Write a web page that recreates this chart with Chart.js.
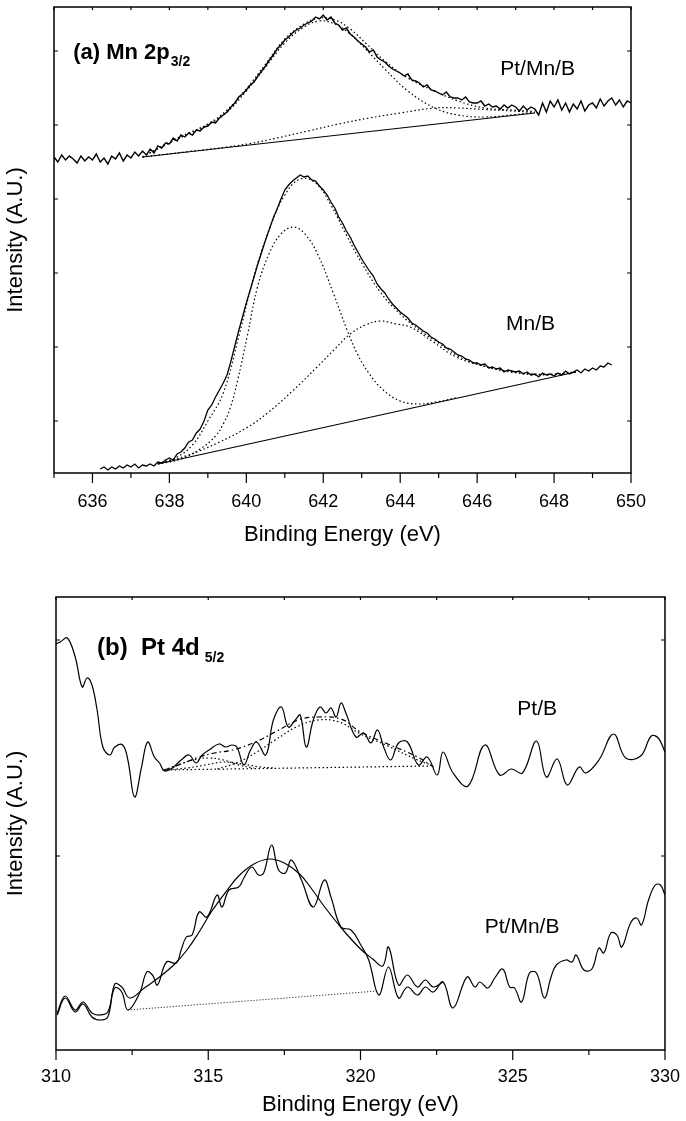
<!DOCTYPE html>
<html>
<head>
<meta charset="utf-8">
<script src="https://cdn.jsdelivr.net/npm/chart.js@4.4.1/dist/chart.umd.min.js"></script>
<style>
    html, body { margin: 0; padding: 0; background: #fff; }
    #wrap { position: relative; width: 686px; height: 1121px; }
    canvas { position: absolute; left: 0; }
</style>
</head>
<body>
<div id="wrap">
    <canvas id="mnChart" width="686" height="555" style="top:0"></canvas>
    <canvas id="ptChart" width="686" height="566" style="top:555px"></canvas>
</div>
<script>
const FONT = '"Liberation Sans", Arial, Helvetica, sans-serif';

// ---------- (a) Mn 2p3/2 ----------
const energyA = [
    635.0, 635.1, 635.2, 635.3, 635.4, 635.5, 635.6, 635.7, 635.8, 635.9,
    636.0, 636.1, 636.2, 636.3, 636.4, 636.5, 636.6, 636.7, 636.8, 636.9,
    637.0, 637.1, 637.2, 637.3, 637.4, 637.5, 637.6, 637.7, 637.8, 637.9,
    638.0, 638.1, 638.2, 638.3, 638.4, 638.5, 638.6, 638.7, 638.8, 638.9,
    639.0, 639.1, 639.2, 639.3, 639.4, 639.5, 639.6, 639.7, 639.8, 639.9,
    640.0, 640.1, 640.2, 640.3, 640.4, 640.5, 640.6, 640.7, 640.8, 640.9,
    641.0, 641.1, 641.2, 641.3, 641.4, 641.5, 641.6, 641.7, 641.8, 641.9,
    642.0, 642.1, 642.2, 642.3, 642.4, 642.5, 642.6, 642.7, 642.8, 642.9,
    643.0, 643.1, 643.2, 643.3, 643.4, 643.5, 643.6, 643.7, 643.8, 643.9,
    644.0, 644.1, 644.2, 644.3, 644.4, 644.5, 644.6, 644.7, 644.8, 644.9,
    645.0, 645.1, 645.2, 645.3, 645.4, 645.5, 645.6, 645.7, 645.8, 645.9,
    646.0, 646.1, 646.2, 646.3, 646.4, 646.5, 646.6, 646.7, 646.8, 646.9,
    647.0, 647.1, 647.2, 647.3, 647.4, 647.5, 647.6, 647.7, 647.8, 647.9,
    648.0, 648.1, 648.2, 648.3, 648.4, 648.5, 648.6, 648.7, 648.8, 648.9,
    649.0, 649.1, 649.2, 649.3, 649.4, 649.5, 649.6, 649.7, 649.8, 649.9,
    650.0
];
const ptMnBSpectrumA = [
    264, 259, 266, 261, 265, 262, 258, 265, 260, 264,
    261, 267, 259, 263, 257, 265, 262, 268, 260, 266,
    263, 269, 265, 270, 266, 272, 268, 275, 273, 278,
    277, 283, 280, 286, 284, 288, 286, 291, 290, 294,
    295, 299, 298, 303, 306, 309, 314, 318, 324, 327,
    331, 336, 339, 345, 350, 355, 361, 366, 372, 376,
    381, 384, 388, 391, 393, 396, 398, 400, 404, 402,
    406, 401, 404, 398, 396, 391, 393, 387, 384, 380,
    377, 374, 369, 371, 364, 361, 359, 355, 352, 350,
    348, 345, 347, 341, 340, 338, 334, 336, 331, 330,
    328, 326, 329, 324, 323, 323, 321, 324, 319, 318,
    318, 320, 315, 317, 314, 315, 312, 316, 313, 316,
    314, 310, 315, 311, 314, 312, 306, 318, 309, 320,
    314, 321, 311, 318, 309, 317, 312, 320, 310, 316,
    318, 313, 322, 315, 320, 323, 316, 321, 314, 320,
    318
];
const mnBSpectrumA = [
    null, null, null, null, null, null, null, null, null, null,
    null, null, -48, -46, -49, -46, -48, -45, -47, -44,
    -46, -43, -47, -44, -45, -43, -45, -41, -42, -39,
    -37, -39, -33, -31, -27, -21, -19, -12, -8, 0,
    11, 16, 24, 31, 38, 46, 60, 75, 90, 104,
    118, 131, 144, 157, 169, 181, 192, 203, 212, 222,
    231, 236, 240, 243, 246, 244, 245, 241, 240, 235,
    231, 226, 219, 213, 204, 198, 190, 184, 176, 169,
    162, 156, 150, 145, 137, 132, 128, 122, 117, 113,
    109, 106, 103, 98, 96, 93, 90, 88, 84, 82,
    79, 77, 73, 72, 69, 66, 65, 62, 61, 58,
    58, 56, 57, 53, 54, 52, 53, 49, 51, 50,
    49, 50, 47, 49, 46, 47, 44, 48, 46, 47,
    45, 48, 46, 50, 47, 49, 51, 48, 52, 50,
    53, 51, 55, 54, 58, 56, null, null, null, null,
    null
];
// fitted curves (energy / intensity pairs)
const ptMnBBaseE = [637.3, 647.5];
const ptMnBBaseI = [264, 308];
const ptMnBMainE = [637.3, 638.0, 638.5, 639.0, 639.5, 640.0, 640.5, 641.0, 641.5, 641.9, 642.3, 642.7, 643.1, 643.6, 644.2, 644.9, 645.5, 646.2, 647.0, 647.5];
const ptMnBMainI = [264, 278, 287, 296, 309, 330, 354, 378, 394, 400, 397, 387, 372, 352, 330, 313, 306, 304, 306.5, 308.5];
const ptMnBSecondE = [637.3, 638.5, 639.5, 640.1, 640.8, 641.6, 642.4, 643.2, 644.0, 644.9, 645.5, 646.2, 646.9, 647.5];
const ptMnBSecondI = [264, 269.4, 274, 277.5, 283, 290, 297, 303, 308, 313, 313, 311.5, 310, 308.5];
const ptMnBEnvE = [637.3, 638.0, 638.5, 639.0, 639.5, 640.0, 640.5, 641.0, 641.5, 641.9, 642.3, 642.7, 643.1, 643.6, 644.2, 644.9, 645.5, 646.2, 646.9, 647.5];
const ptMnBEnvI = [264, 279, 288, 297, 311, 332, 357, 382, 397, 403, 401, 392, 378, 360, 343, 330, 320, 313, 311, 309.5];

const mnBBaseE = [637.7, 648.57];
const mnBBaseI = [-43, 49];
const mnBMainE = [637.7, 638.3, 638.8, 639.2, 639.4, 639.58, 639.77, 640.03, 640.29, 640.6, 640.9, 641.22, 641.5, 641.84, 642.26, 642.62, 642.9, 643.2, 643.56, 644.0, 644.5, 645.0, 645.5];
const mnBMainI = [-43, -38, -28, -15, -3, 13, 40, 86, 134, 168, 187, 194, 188, 168, 128, 91, 66, 47, 31, 20, 17, 19.5, 23.5];
const mnBSecondE = [637.7, 638.5, 639.25, 640.0, 640.55, 641.2, 641.84, 642.3, 642.7, 643.1, 643.48, 643.9, 644.26, 644.86, 645.45, 646.16, 646.86, 647.71, 648.57];
const mnBSecondI = [-43, -34, -22, -7, 8, 30, 54, 72, 87, 96, 100, 97, 94, 79, 64, 55, 49, 46, 49];
const mnBEnvE = [637.7, 638.2, 638.6, 639.0, 639.4, 639.8, 640.2, 640.6, 641.0, 641.4, 641.8, 642.2, 642.6, 643.0, 643.5, 644.0, 644.5, 645.0, 645.5, 646.0, 646.5, 647.0, 647.5, 648.0, 648.57];
const mnBEnvI = [-43, -36, -24, 0, 28, 84, 145, 192, 226, 242, 238, 216, 186, 158, 128, 107, 91, 78, 65, 57, 52, 49, 47, 47, 49];

const xTicksA = [635, 636, 637, 638, 639, 640, 641, 642, 643, 644, 645, 646, 647, 648, 649, 650];
const xLabelsA = [636, 638, 640, 642, 644, 646, 648, 650];
const yTicksA = [0, 74, 148, 222, 296, 370];

// ---------- (b) Pt 4d5/2 ----------
const ptBE = [310.0, 310.14, 310.37, 310.63, 310.86, 311.02, 311.18, 311.35, 311.54, 311.77, 311.93, 312.19, 312.36, 312.58, 312.81, 313.01, 313.23, 313.40, 313.56, 313.82, 314.11, 314.37, 314.60, 314.80, 315.03, 315.35, 315.58, 315.78, 315.94, 316.17, 316.39, 316.59, 316.89, 317.14, 317.40, 317.63, 317.86, 318.02, 318.22, 318.45, 318.67, 318.87, 319.03, 319.20, 319.36, 319.52, 319.85, 320.11, 320.34, 320.56, 320.76, 320.99, 321.25, 321.54, 321.90, 322.19, 322.52, 322.71, 323.04, 323.53, 324.08, 324.57, 324.96, 325.32, 325.78, 326.10, 326.46, 326.79, 327.18, 327.40, 327.83, 328.31, 328.71, 329.20, 329.55, 329.78, 330.0];
const ptBI = [212, 214, 218, 199, 169, 178, 171, 146, 109, 101, 109, 111, 96, 59, 89, 114, 99, 93, 85, 88, 96, 101, 93, 101, 106, 112, 109, 111, 109, 91, 106, 114, 101, 136, 149, 129, 136, 141, 109, 136, 149, 143, 148, 139, 153, 143, 119, 123, 113, 126, 109, 96, 113, 114, 91, 99, 81, 104, 83, 70, 111, 81, 87, 83, 115, 79, 97, 71, 89, 83, 96, 122, 98, 100, 120, 118, 104];
const ptBBaseE = [313.5, 322.3];
const ptBBaseI = [86, 90];
const ptBEnvE = [313.56, 314.2, 314.7, 315.2, 315.8, 316.55, 317.2, 317.96, 318.6, 319.36, 320.0, 320.9, 321.87, 322.4];
const ptBEnvI = [86, 93, 99, 103, 106, 114, 124, 136, 139, 137, 124, 112, 99, 89];
const ptBComp1E = [313.56, 314.0, 314.5, 315.0, 315.5, 316.0, 316.5];
const ptBComp1I = [86, 91, 96, 98, 96, 91, 88];
const ptBComp2E = [313.56, 314.3, 314.9, 315.5, 316.1, 316.7, 317.2];
const ptBComp2I = [86, 88, 91, 94, 92, 89, 88];
const ptBComp3E = [315.3, 316.0, 316.6, 317.2, 317.9, 318.6, 319.3, 320.0, 320.9, 321.8, 322.4];
const ptBComp3I = [87, 94, 104, 116, 129, 136, 134, 122, 110, 97, 90];

const ptMnBE = [310.04, 310.30, 310.63, 310.89, 311.18, 311.44, 311.70, 311.93, 312.16, 312.36, 312.75, 312.98, 313.17, 313.33, 313.63, 313.95, 314.11, 314.28, 314.47, 314.70, 314.96, 315.29, 315.45, 315.68, 316.00, 316.17, 316.43, 316.65, 316.82, 317.08, 317.31, 317.53, 317.73, 318.06, 318.45, 318.81, 319.03, 319.36, 319.69, 320.01, 320.27, 320.60, 320.92, 321.25, 321.54, 321.87, 322.13, 322.39, 322.71, 323.04, 323.50, 323.76, 323.92, 324.18, 324.41, 324.67, 324.90, 325.06, 325.29, 325.55, 325.78, 326.04, 326.26, 326.43, 326.75, 326.95, 327.08, 327.34, 327.60, 327.83, 327.99, 328.22, 328.42, 328.58, 328.87, 329.07, 329.23, 329.46, 329.68, 329.85, 330.0];
const ptMnBI = [-157, -140, -154, -146, -157, -159, -156, -132, -136, -154, -137, -116, -119, -129, -106, -107, -94, -81, -79, -56, -61, -39, -51, -34, -31, -22, -11, -19, -17, 11, -14, -17, -4, -24, -51, -24, -41, -71, -74, -89, -104, -139, -111, -142, -131, -139, -131, -136, -126, -152, -121, -131, -126, -132, -122, -113, -131, -132, -146, -117, -117, -142, -121, -109, -104, -106, -99, -114, -113, -92, -97, -77, -79, -91, -67, -62, -69, -44, -29, -29, -39];
const ptMnBFitE = [310.04, 310.30, 310.63, 310.89, 311.18, 311.44, 311.70, 311.93, 312.16, 312.42, 312.9, 313.4, 313.9, 314.3, 314.7, 315.1, 315.6, 316.0, 316.5, 317.0, 317.5, 318.0, 318.4, 318.8, 319.4, 320.0, 320.4, 320.73, 320.92, 321.25, 321.54, 321.87, 322.13, 322.39, 322.71];
const ptMnBFitI = [-159, -142, -156, -148, -161, -164, -161, -128, -131, -142, -132, -121, -108, -94, -76, -56, -35, -20, -8, -3, -7, -18, -33, -50, -73, -93, -103, -110, -91, -129, -119, -131, -124, -131, -126];
const ptMnBBaseBE = [312.36, 320.56];
const ptMnBBaseBI = [-154, -135];

const xTicksB = [310, 312.5, 315, 317.5, 320, 322.5, 325, 327.5, 330];
const xLabelsB = [310, 315, 320, 325, 330];
const yTicksB = [0, 216];

// ---------- helpers ----------
function pairs(xs, ys) {
    const out = [];
    xs.forEach((x, i) => { if (ys[i] !== null) out.push({ x: x, y: ys[i] }); });
    return out;
}

const DOT = [1.5, 2.5];

function line(data, opts) {
    return Object.assign({
        data: data,
        borderColor: '#000',
        borderWidth: 1.2,
        pointRadius: 0,
        fill: false,
        tension: 0,
        spanGaps: false
    }, opts || {});
}

const framePlugin = {
    id: 'frame',
    afterDraw(chart, args, opts) {
        const { ctx, chartArea: a, scales: { x, y } } = chart;
        ctx.save();
        ctx.strokeStyle = '#000';
        ctx.lineWidth = 1.5;
        ctx.strokeRect(a.left, a.top, a.right - a.left, a.bottom - a.top);
        ctx.lineWidth = 1.2;
        ctx.beginPath();
        x.ticks.forEach(t => {
            const px = x.getPixelForValue(t.value);
            const major = opts.major.includes(t.value);
            ctx.moveTo(px, a.bottom);
            ctx.lineTo(px, a.bottom + (major ? 10 : 5));
            ctx.moveTo(px, a.top);
            ctx.lineTo(px, a.top + 3);
        });
        opts.yTicks.forEach(v => {
            const py = y.getPixelForValue(v);
            ctx.moveTo(a.left, py);
            ctx.lineTo(a.left + 4, py);
            ctx.moveTo(a.right, py);
            ctx.lineTo(a.right - 4, py);
        });
        ctx.stroke();

        ctx.fillStyle = '#000';
        ctx.textAlign = 'left';
        ctx.textBaseline = 'alphabetic';
        opts.labels.forEach(l => {
            const px = x.getPixelForValue(l.x);
            const py = y.getPixelForValue(l.y);
            ctx.font = (l.bold ? 'bold ' : '') + l.size + 'px ' + FONT;
            ctx.fillText(l.text, px, py);
            if (l.sub) {
                const w = ctx.measureText(l.text).width;
                ctx.font = 'bold ' + l.subSize + 'px ' + FONT;
                ctx.fillText(l.sub, px + w + l.gap, py + l.drop);
            }
        });
        ctx.restore();
    }
};

function xScale(min, max, ticks, labels, height, pad, titlePad) {
    return {
        type: 'linear',
        min: min,
        max: max,
        afterBuildTicks: s => { s.ticks = ticks.map(v => ({ value: v })); },
        afterFit: s => { s.height = height; },
        grid: { display: false, drawTicks: true, tickLength: 10 },
        border: { display: false },
        ticks: {
            autoSkip: false,
            maxRotation: 0,
            padding: pad,
            color: '#000',
            font: { family: FONT, size: 18 },
            callback: v => labels.includes(v) ? String(v) : ''
        },
        title: {
            display: true,
            text: 'Binding Energy (eV)',
            color: '#000',
            font: { family: FONT, size: 22 },
            padding: { top: 0, bottom: titlePad }
        }
    };
}

function yScale(min, max, width) {
    return {
        min: min,
        max: max,
        afterFit: s => { s.width = width; },
        grid: { display: false, drawTicks: false },
        border: { display: false },
        ticks: { display: false },
        title: {
            display: true,
            text: 'Intensity (A.U.)',
            color: '#000',
            font: { family: FONT, size: 22 },
            padding: { top: 3, bottom: 0 }
        }
    };
}

// ---------- chart (a) ----------
new Chart(document.getElementById('mnChart'), {
    type: 'line',
    data: {
        datasets: [
            line(pairs(energyA, ptMnBSpectrumA), { borderWidth: 1.4 }),
            line(pairs(ptMnBBaseE, ptMnBBaseI)),
            line(pairs(ptMnBMainE, ptMnBMainI), { borderDash: DOT, tension: 0.4 }),
            line(pairs(ptMnBSecondE, ptMnBSecondI), { borderDash: DOT, tension: 0.4 }),
            line(pairs(ptMnBEnvE, ptMnBEnvI), { borderDash: DOT, tension: 0.4 }),
            line(pairs(energyA, mnBSpectrumA), { borderWidth: 1.3 }),
            line(pairs(mnBBaseE, mnBBaseI)),
            line(pairs(mnBMainE, mnBMainI), { borderDash: DOT, tension: 0.4 }),
            line(pairs(mnBSecondE, mnBSecondI), { borderDash: DOT, tension: 0.4 }),
            line(pairs(mnBEnvE, mnBEnvI), { borderDash: DOT, tension: 0.4 })
        ]
    },
    options: {
        responsive: false,
        animation: false,
        devicePixelRatio: 1,
        layout: { padding: { left: 0, right: 55, top: 7, bottom: 0 } },
        plugins: {
            legend: { display: false },
            tooltip: { enabled: false },
            frame: {
                major: xLabelsA,
                yTicks: yTicksA,
                labels: [
                    { text: '(a) Mn 2p', x: 635.5, y: 362, bold: true, size: 22, sub: '3/2', subSize: 14, gap: 1, drop: 7 },
                    { text: 'Pt/Mn/B', x: 646.6, y: 346, size: 21 },
                    { text: 'Mn/B', x: 646.75, y: 91, size: 21 }
                ]
            }
        },
        scales: {
            x: xScale(635, 650, xTicksA, xLabelsA, 82, 8, 7),
            y: yScale(-52, 414, 54)
        }
    },
    plugins: [framePlugin]
});

// ---------- chart (b) ----------
new Chart(document.getElementById('ptChart'), {
    type: 'line',
    data: {
        datasets: [
            line(pairs(ptBE, ptBI), { tension: 0.4 }),
            line(pairs(ptBBaseE, ptBBaseI), { borderDash: DOT }),
            line(pairs(ptBComp1E, ptBComp1I), { borderDash: DOT, tension: 0.4 }),
            line(pairs(ptBComp2E, ptBComp2I), { borderDash: DOT, tension: 0.4 }),
            line(pairs(ptBComp3E, ptBComp3I), { borderDash: DOT, tension: 0.4 }),
            line(pairs(ptBEnvE, ptBEnvI), { borderDash: [5, 3, 1.5, 3], tension: 0.4 }),
            line(pairs(ptMnBE, ptMnBI), { tension: 0.4 }),
            line(pairs(ptMnBFitE, ptMnBFitI), { tension: 0.4 }),
            line(pairs(ptMnBBaseBE, ptMnBBaseBI), { borderDash: [1, 2], borderWidth: 1 })
        ]
    },
    options: {
        responsive: false,
        animation: false,
        devicePixelRatio: 1,
        layout: { padding: { left: 0, right: 16, top: 42, bottom: 0 } },
        plugins: {
            legend: { display: false },
            tooltip: { enabled: false },
            frame: {
                major: xLabelsB,
                yTicks: yTicksB,
                labels: [
                    { text: '(b)  Pt 4d', x: 311.35, y: 201, bold: true, size: 24, sub: '5/2', subSize: 14, gap: 5, drop: 7 },
                    { text: 'Pt/B', x: 325.15, y: 141, size: 21 },
                    { text: 'Pt/Mn/B', x: 324.08, y: -77, size: 21 }
                ]
            }
        },
        scales: {
            x: xScale(310, 330, xTicksB, xLabelsB, 71, 6, 3),
            y: yScale(-194, 259, 56)
        }
    },
    plugins: [framePlugin]
});
</script>
</body>
</html>
